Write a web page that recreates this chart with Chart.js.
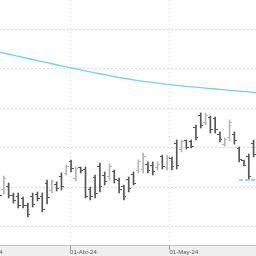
<!DOCTYPE html>
<html>
<head>
<meta charset="utf-8">
<script src="https://cdn.jsdelivr.net/npm/chart.js@4"></script>
<style>
html,body{margin:0;padding:0;background:#fff;overflow:hidden;width:256px;height:256px;}
#wrap{position:absolute;left:-49px;top:0;width:317px;height:256px;}
</style>
</head>
<body>
<div id="wrap"><canvas id="c" width="317" height="256"></canvas></div>
<script>
// Trading days
const dates = ['2024-02-23','2024-02-26','2024-02-27','2024-02-28','2024-02-29',
'2024-03-01','2024-03-04','2024-03-05','2024-03-06','2024-03-07','2024-03-08',
'2024-03-11','2024-03-12','2024-03-13','2024-03-14','2024-03-15',
'2024-03-18','2024-03-19','2024-03-20','2024-03-21','2024-03-22',
'2024-03-25','2024-03-26','2024-03-27','2024-03-28',
'2024-04-02','2024-04-03','2024-04-04','2024-04-05',
'2024-04-08','2024-04-09','2024-04-10','2024-04-11','2024-04-12',
'2024-04-15','2024-04-16','2024-04-17','2024-04-18','2024-04-19',
'2024-04-22','2024-04-23','2024-04-24','2024-04-25','2024-04-26',
'2024-04-29','2024-04-30',
'2024-05-02','2024-05-03',
'2024-05-06','2024-05-07','2024-05-08','2024-05-09','2024-05-10',
'2024-05-13','2024-05-14','2024-05-15','2024-05-16','2024-05-17',
'2024-05-20','2024-05-21','2024-05-22','2024-05-23','2024-05-24',
'2024-05-27','2024-05-28','2024-05-29','2024-05-30'];

// Moving average (one value per trading day above)
const movingAvg = [11.876,11.865,11.854,11.843,11.832,
11.821,11.810,11.799,11.788,11.778,11.767,11.756,11.745,11.735,11.724,
11.713,11.702,11.692,11.681,11.670,11.660,11.649,11.639,11.628,11.618,
11.607,11.597,11.587,11.577,11.567,11.557,11.548,11.538,11.529,11.519,
11.510,11.502,11.495,11.487,11.479,11.472,11.466,11.460,11.454,11.448,
11.441,11.436,11.431,11.426,11.421,11.416,11.412,11.407,11.403,11.398,
11.394,11.390,11.386,11.381,11.377,11.373,11.369,11.364,11.360,11.356,
11.352,11.348];

// OHLC bars, starting at this date
const firstBarDate = '2024-03-08';
const openVals = [10.424,10.374,10.404,10.323,10.313,10.283,10.222,10.313,10.333,10.313,
10.444,10.364,10.434,10.515,10.545,10.657,10.485,10.596,10.576,10.374,
10.495,10.616,10.525,10.505,10.556,10.465,10.404,10.475,10.535,10.566,
10.576,10.636,10.626,10.596,10.707,10.596,10.687,10.848,10.778,10.869,
10.859,11.010,11.131,11.051,11.101,11.091,10.939,10.838,10.899,10.939,
10.788,10.667,10.707,10.848];
const highVals = [10.475,10.515,10.444,10.343,10.343,10.303,10.242,10.343,10.354,10.343,
10.475,10.475,10.455,10.545,10.626,10.677,10.606,10.606,10.606,10.404,
10.525,10.646,10.556,10.636,10.576,10.495,10.424,10.505,10.556,10.677,
10.747,10.657,10.657,10.657,10.727,10.727,10.707,10.879,10.879,10.879,
10.879,11.030,11.152,11.152,11.121,11.111,10.960,10.899,11.081,10.960,
10.808,10.677,10.737,10.879];
const lowVals = [10.273,10.333,10.293,10.242,10.192,10.192,10.101,10.202,10.263,10.152,
10.232,10.343,10.364,10.374,10.525,10.556,10.465,10.545,10.293,10.273,
10.293,10.354,10.424,10.475,10.444,10.343,10.273,10.354,10.424,10.545,
10.545,10.545,10.525,10.576,10.586,10.576,10.576,10.586,10.758,10.788,
10.798,10.879,11.000,11.030,10.949,10.949,10.859,10.818,10.869,10.838,
10.657,10.616,10.475,10.707];
const closeVals = [10.323,10.485,10.323,10.263,10.222,10.212,10.131,10.232,10.283,10.172,
10.293,10.455,10.384,10.414,10.606,10.586,10.586,10.566,10.313,10.303,
10.343,10.414,10.455,10.606,10.475,10.374,10.303,10.384,10.444,10.657,
10.717,10.566,10.556,10.636,10.616,10.697,10.606,10.626,10.859,10.808,
10.818,10.909,11.030,11.131,10.980,10.980,10.879,10.879,11.051,10.869,
10.677,10.626,10.515,10.737];

// Support level (dashed)
const supportLevel = 10.475;
const supportStart = '2024-05-22';
const supportEnd = '2024-05-30';

// Month ticks
const monthTicks = ['2024-03-01','2024-04-01','2024-05-01'];
const monthLabels = ['01-Mar-24','01-Abr-24','01-May-24'];

// ---- build ----
const t = s => Date.parse(s + 'T00:00:00Z');
function posOfDate(s) {
  const tt = t(s);
  for (let i = 0; i < dates.length; i++) {
    const ti = t(dates[i]);
    if (ti === tt) return i;
    if (ti > tt) {
      const tp = t(dates[i-1]);
      return (i - 1) + (tt - tp) / (ti - tp);
    }
  }
  return dates.length - 1;
}
const tickPos = monthTicks.map(posOfDate);
const barStart = dates.indexOf(firstBarDate);

const DARK = '#555555', LIGHT = '#b4b4b4';
const isUp = i => closeVals[i] > openVals[i];
function tickImg(color, side) {
  const c = document.createElement('canvas');
  c.width = 5; c.height = 1;
  const g = c.getContext('2d');
  g.fillStyle = color;
  g.fillRect(side < 0 ? 0 : 3, 0, 2, 1);
  return c;
}
const openDark = tickImg(DARK, -1), openLight = tickImg(LIGHT, -1);
const closeDark = tickImg(DARK, 1), closeLight = tickImg(LIGHT, 1);

const barData = openVals.map((o, i) => ({x: barStart + i, y: [lowVals[i], highVals[i]]}));
const openData = openVals.map((o, i) => ({x: barStart + i, y: o}));
const closeData = closeVals.map((c, i) => ({x: barStart + i, y: c}));
const maData = movingAvg.map((v, i) => ({x: i, y: v}));
const supData = [{x: dates.indexOf(supportStart), y: supportLevel}, {x: dates.indexOf(supportEnd), y: supportLevel}];

const bandPlugin = {
  id: 'band',
  beforeDraw(chart) {
    const {ctx, chartArea, width, height} = chart;
    ctx.save();
    ctx.fillStyle = '#efefef';
    ctx.fillRect(0, chartArea.bottom, width, height - chartArea.bottom);
    ctx.restore();
  }
};

new Chart(document.getElementById('c'), {
  type: 'bar',
  data: {
    datasets: [
      {type: 'line', data: maData, borderColor: '#72d0f2', borderWidth: 1.3, pointRadius: 0, tension: 0, order: 0},
      {type: 'line', data: supData, borderColor: '#a3cbef', borderWidth: 2, borderDash: [4, 2], pointRadius: 0, order: 1},
      {type: 'line', data: openData, showLine: false, pointRadius: 2, order: 2,
        pointStyle: ctx => isUp(ctx.dataIndex) ? openLight : openDark},
      {type: 'line', data: closeData, showLine: false, pointRadius: 2, order: 2,
        pointStyle: ctx => isUp(ctx.dataIndex) ? closeLight : closeDark},
      {type: 'bar', data: barData, barThickness: 1, borderWidth: 0, grouped: false, order: 3,
        backgroundColor: ctx => isUp(ctx.dataIndex) ? LIGHT : DARK}
    ]
  },
  options: {
    responsive: false,
    animation: false,
    devicePixelRatio: 1,
    events: [],
    layout: {padding: 0, autoPadding: false},
    plugins: {legend: {display: false}, tooltip: {enabled: false}},
    scales: {
      x: {
        type: 'linear', position: 'bottom', min: 0, max: 66, offset: false,
        afterBuildTicks: s => { s.ticks = tickPos.map(v => ({value: v})); },
        afterFit: s => { s.height = 11; },
        ticks: {autoSkip: false, maxRotation: 0, minRotation: 0, align: 'start', padding: -1.5,
          color: '#555', font: {family: 'Liberation Sans, Arial, sans-serif', size: 6},
          callback: (v, i) => monthLabels[i]},
        grid: {offset: false, color: '#dcdcdc', tickColor: '#999', tickLength: 5, tickBorderDash: [], borderDash: [1, 3]},
        border: {display: true, color: '#c4c4c4', dash: [1, 3]}
      },
      y: {
        type: 'linear', position: 'left', min: 9.818, max: 12.293,
        afterFit: s => { s.width = 0; },
        ticks: {display: false, stepSize: 0.4, includeBounds: false},
        grid: {color: '#dcdcdc', drawTicks: false, borderDash: [2, 2]},
        border: {display: false, dash: [2, 2]}
      }
    }
  },
  plugins: [bandPlugin]
});
</script>
</body>
</html>
